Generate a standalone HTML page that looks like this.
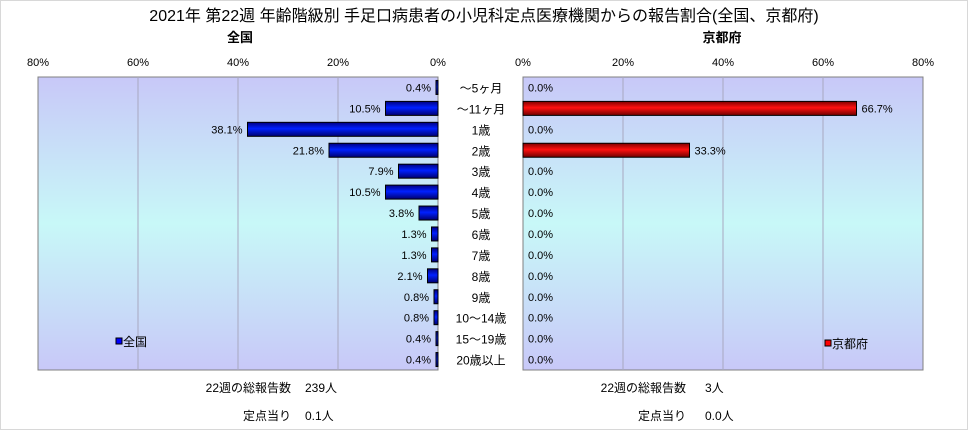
<!DOCTYPE html>
<html><head><meta charset="utf-8"><style>
body{margin:0;background:#fff;width:968px;height:430px;overflow:hidden;font-family:"Liberation Sans","Noto Sans CJK JP",sans-serif;}
svg text{font-family:"Liberation Sans","Noto Sans CJK JP",sans-serif;}
</style></head><body>
<svg id="c" width="968" height="430">
<defs>
<linearGradient id="bg" x1="0" y1="0" x2="0" y2="1">
<stop offset="0" stop-color="#c8c8f8"/><stop offset="0.5" stop-color="#c8f8f8"/><stop offset="1" stop-color="#c8c8f8"/></linearGradient>
<linearGradient id="gb" x1="0" y1="0" x2="0" y2="1">
<stop offset="0" stop-color="#000080"/><stop offset="0.45" stop-color="#0020ff"/><stop offset="1" stop-color="#000070"/></linearGradient>
<linearGradient id="gr" x1="0" y1="0" x2="0" y2="1">
<stop offset="0" stop-color="#800000"/><stop offset="0.45" stop-color="#ff1010"/><stop offset="1" stop-color="#700000"/></linearGradient>
</defs>
<rect x="0.5" y="0.5" width="967" height="429" fill="none" stroke="#d8d8d8"/>
<text x="484" y="21" font-size="16" text-anchor="middle">2021年 第22週 年齢階級別 手足口病患者の小児科定点医療機関からの報告割合(全国、京都府)</text>
<text x="240" y="42" font-size="13" font-weight="bold" text-anchor="middle">全国</text>
<text x="722" y="42" font-size="13" font-weight="bold" text-anchor="middle">京都府</text>
<g id="g"></g>
<text x="291" y="392" font-size="12" text-anchor="end">22週の総報告数</text>
<text x="305" y="392" font-size="12">239人</text>
<text x="291" y="420" font-size="12" text-anchor="end">定点当り</text>
<text x="305" y="420" font-size="12">0.1人</text>
<text x="686" y="392" font-size="12" text-anchor="end">22週の総報告数</text>
<text x="705" y="392" font-size="12">3人</text>
<text x="686" y="420" font-size="12" text-anchor="end">定点当り</text>
<text x="705" y="420" font-size="12">0.0人</text>
</svg>
<script>
const categories=["～5ヶ月","～11ヶ月","1歳","2歳","3歳","4歳","5歳","6歳","7歳","8歳","9歳","10～14歳","15～19歳","20歳以上"];
const nationalValues=[0.4,10.5,38.1,21.8,7.9,10.5,3.8,1.3,1.3,2.1,0.8,0.8,0.4,0.4];
const kyotoValues=[0,66.7,0,33.3,0,0,0,0,0,0,0,0,0,0];
const tickValues=[0,20,40,60,80];
const NS="http://www.w3.org/2000/svg",g=document.getElementById('g');
const top0=77,bot=370,rowH=(bot-top0)/categories.length,pxPer=5;
const L0=438,R0=523;
function xl(v){return L0-v*pxPer;}
function xr(v){return R0+v*pxPer;}
function yc(i){return top0+(i+0.5)*rowH;}
function mk(t,a,txt){const e=document.createElementNS(NS,t);for(const k in a)e.setAttribute(k,a[k]);if(txt!=null)e.textContent=txt;g.appendChild(e);return e;}
let e;
e=mk('rect',{x:xl(80),y:top0,width:80*pxPer,height:bot-top0,fill:'url(#bg)',stroke:'#808080'});


e=mk('rect',{x:R0,y:top0,width:80*pxPer,height:bot-top0,fill:'url(#bg)',stroke:'#808080'});


tickValues.forEach(t=>{
 if(t>0&&t<80){
  e=mk('line',{x1:xl(t),x2:xl(t),y1:top0,y2:bot,stroke:'#a8a8c0'});
  
  
  e=mk('line',{x1:xr(t),x2:xr(t),y1:top0,y2:bot,stroke:'#a8a8c0'});
  
  
 }
 e=mk('text',{x:xl(t),y:66,'font-size':11,'text-anchor':'middle'},t+'%');
 
 
 e=mk('text',{x:xr(t),y:66,'font-size':11,'text-anchor':'middle'},t+'%');
 
 
});
categories.forEach((c,i)=>{
 const y=yc(i),v=nationalValues[i],k=kyotoValues[i];
 e=mk('text',{x:481,y:y+5,'font-size':12,'text-anchor':'middle'},c);
 
 
 if(v>0){
  e=mk('rect',{x:xl(v),y:y-7,width:v*pxPer,height:14,fill:'url(#gb)',stroke:'#000','stroke-width':1});
  
  
 }
 e=mk('text',{x:xl(v)-5,y:y+4,'font-size':11,'text-anchor':'end'},v.toFixed(1)+'%');
 
 
 if(k>0){
  e=mk('rect',{x:R0,y:y-7,width:k*pxPer,height:14,fill:'url(#gr)',stroke:'#000','stroke-width':1});
  
  
 }
 e=mk('text',{x:xr(k)+5,y:y+4,'font-size':11},k.toFixed(1)+'%');
 
 
});
e=mk('rect',{x:116,y:338,width:6,height:6,fill:'#0000ff',stroke:'#000'});


e=mk('text',{x:123,y:346,'font-size':12},'全国');


e=mk('rect',{x:825,y:340,width:6,height:6,fill:'#ff0000',stroke:'#000'});


e=mk('text',{x:832,y:348,'font-size':12},'京都府');


</script>
</body></html>
